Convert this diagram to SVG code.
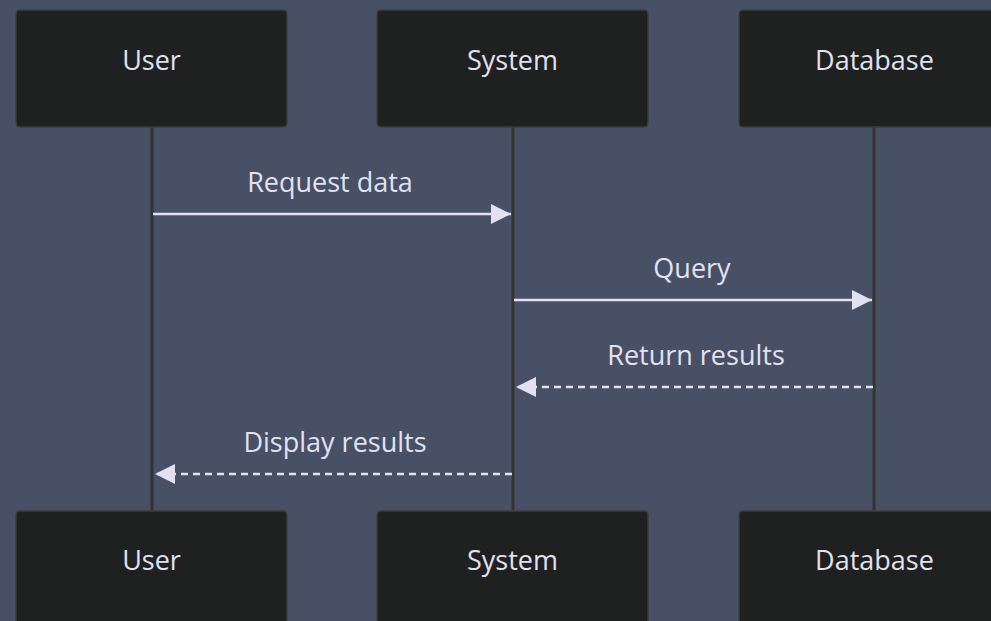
<svg xmlns="http://www.w3.org/2000/svg" width="991" height="621" viewBox="0 0 991 621">
<defs>
<style>
.actor{fill:#1f2020;stroke:#3c3c3c;stroke-width:1.5}
.lbl{font-family:"Open Sans","DejaVu Sans",sans-serif;font-size:27px;fill:#e2e1f1;text-anchor:middle}
.life{stroke:#333;stroke-width:3}
.msg{stroke:#e2e1f1;stroke-width:2.6;fill:none}
.dash{stroke-dasharray:7,5}
</style>
<marker id="ah" markerWidth="20" markerHeight="20" refX="20" refY="10" orient="auto" markerUnits="userSpaceOnUse"><path d="M0,0 L20,10 L0,20 z" fill="#e2e1f1"/></marker>
</defs>
<rect width="991" height="621" fill="#475064"/>
<g id="lifelines">
<line class="life" x1="152" y1="127" x2="152" y2="510"/>
<line class="life" x1="513" y1="127" x2="513" y2="510"/>
<line class="life" x1="874" y1="127" x2="874" y2="510"/>
</g>
<g id="actor-user-top"><rect class="actor" x="16" y="10" width="271" height="117" rx="4"/><text class="lbl" x="151.5" y="70">User</text></g>
<g id="actor-system-top"><rect class="actor" x="377" y="10" width="271" height="117" rx="4"/><text class="lbl" x="512.5" y="70">System</text></g>
<g id="actor-database-top"><rect class="actor" x="739" y="10" width="271" height="117" rx="4"/><text class="lbl" x="874.5" y="70">Database</text></g>
<g id="actor-user-bottom"><rect class="actor" x="16" y="511" width="271" height="117" rx="4"/><text class="lbl" x="151.5" y="570">User</text></g>
<g id="actor-system-bottom"><rect class="actor" x="377" y="511" width="271" height="117" rx="4"/><text class="lbl" x="512.5" y="570">System</text></g>
<g id="actor-database-bottom"><rect class="actor" x="739" y="511" width="271" height="117" rx="4"/><text class="lbl" x="874.5" y="570">Database</text></g>
<g id="connectors">
<line class="msg" x1="153" y1="214" x2="511" y2="214" marker-end="url(#ah)"/>
<text class="lbl" x="330" y="192">Request data</text>
<line class="msg" x1="514" y1="300" x2="872" y2="300" marker-end="url(#ah)"/>
<text class="lbl" x="692" y="278">Query</text>
<line class="msg dash" x1="873" y1="387" x2="516" y2="387" marker-end="url(#ah)"/>
<text class="lbl" x="696" y="365">Return results</text>
<line class="msg dash" x1="512" y1="474" x2="155" y2="474" marker-end="url(#ah)"/>
<text class="lbl" x="335" y="452">Display results</text>
</g>
</svg>
